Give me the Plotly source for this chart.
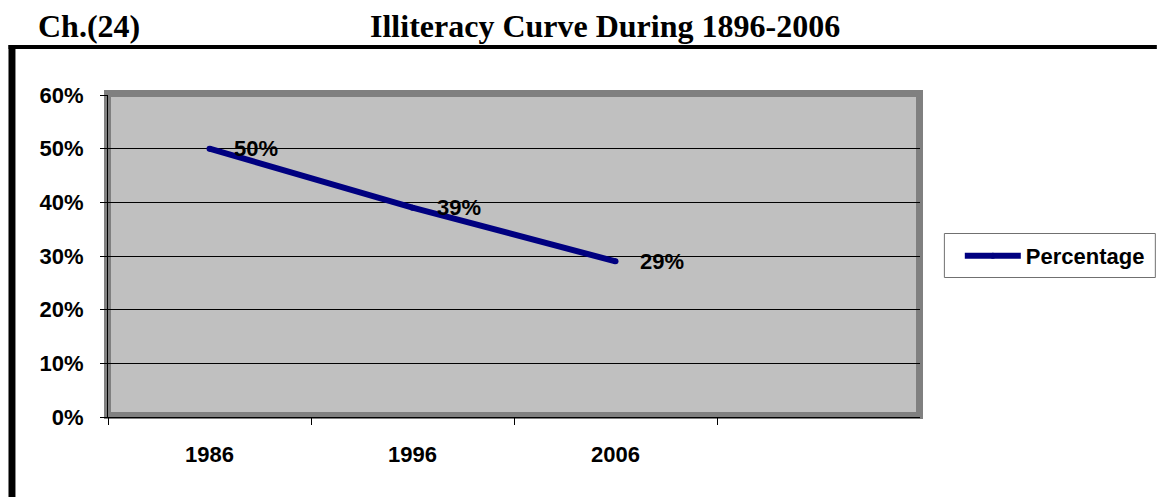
import plotly.graph_objects as go

years = ["1986", "1996", "2006"]
percentage = [0.50, 0.39, 0.29]
series_name = "Percentage"
chapter_label = "Ch.(24)"
title_text = "Illiteracy Curve During 1896-2006"

W, H = 1162, 497
ML, MR, MT, MB = 108, 238, 95, 80
PW, PH = W - ML - MR, H - MT - MB


def fx(px):
    """page x pixel -> paper coordinate"""
    return (px - ML) / PW


def fy(py):
    """page y pixel -> paper coordinate"""
    return (H - MB - py) / PH


label_font = dict(family="Liberation Sans, Arial", size=22, color="black", weight="bold")

fig = go.Figure()
fig.add_trace(go.Scatter(
    x=years, y=percentage, mode="lines+markers", name=series_name,
    line=dict(color="#000080", width=6),
    marker=dict(color="#000080", size=6, line=dict(width=0)),
    cliponaxis=False,
))

annotations = []
for i, v in enumerate(percentage):
    annotations.append(dict(
        x=i, y=v, xref="x", yref="y", text=f"{round(v*100)}%",
        showarrow=False, xanchor="left", yanchor="middle", xshift=22,
        font=label_font,
    ))

title_font = dict(family="Liberation Serif, Times New Roman", size=32, color="black", weight="bold")
annotations.append(dict(x=fx(36), y=fy(26), xref="paper", yref="paper", text=chapter_label,
                        showarrow=False, xanchor="left", yanchor="middle", font=title_font))
annotations.append(dict(x=fx(607), y=fy(26), xref="paper", yref="paper", text=title_text,
                        showarrow=False, xanchor="center", yanchor="middle", font=title_font))

shapes = [
    # top black rule
    dict(type="rect", xref="paper", yref="paper", x0=fx(8), x1=fx(1162), y0=fy(49), y1=fy(45),
         fillcolor="black", line=dict(width=0), layer="above"),
    # left black rule
    dict(type="rect", xref="paper", yref="paper", x0=fx(8), x1=fx(15), y0=fy(497), y1=fy(45),
         fillcolor="black", line=dict(width=0), layer="above"),
    # plot-area frame
    dict(type="rect", xref="paper", yref="paper", x0=fx(107.5), x1=fx(923.5), y0=fy(415.5), y1=fy(93.5),
         fillcolor="rgba(0,0,0,0)", line=dict(color="#808080", width=7), layer="between"),
    # legend box
    dict(type="rect", xref="paper", yref="paper", x0=fx(948.5), x1=fx(1160.5), y0=fy(277.5), y1=fy(233.5),
         fillcolor="white", line=dict(color="#707070", width=1), layer="below"),
]

fig.update_layout(
    width=W, height=H,
    margin=dict(l=ML, r=MR, t=MT, b=MB),
    paper_bgcolor="white",
    plot_bgcolor="#C0C0C0",
    showlegend=True,
    legend=dict(
        x=fx(964), y=fy(256), xanchor="left", yanchor="middle",
        bgcolor="rgba(0,0,0,0)", borderwidth=0,
        font=label_font, itemwidth=56,
    ),
    annotations=annotations,
    shapes=shapes,
    xaxis=dict(
        type="category", categoryorder="array", categoryarray=years,
        range=[-0.5, 3.5], tickson="boundaries",
        ticks="outside", ticklen=7, tickcolor="black", tickwidth=1,
        showline=True, linecolor="black", linewidth=1,
        showgrid=False, zeroline=False,
        tickfont=label_font, ticklabelstandoff=18,
    ),
    yaxis=dict(
        range=[0, 0.6], dtick=0.1, tickformat=".0%",
        ticks="outside", ticklen=7, tickcolor="black", tickwidth=1,
        showline=True, linecolor="black", linewidth=1,
        showgrid=True, gridcolor="black", gridwidth=1,
        zeroline=False,
        tickfont=label_font, ticklabelstandoff=12,
    ),
)

fig.write_html(
    "out.html",
    config={"displayModeBar": False},
    post_script="document.body.style.margin='0';document.body.style.overflow='hidden';",
)
